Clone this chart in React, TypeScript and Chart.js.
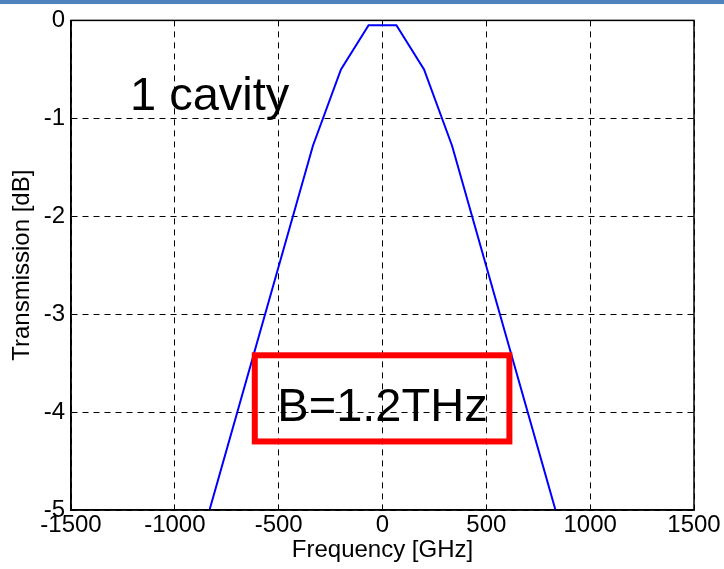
import React, { useEffect, useRef } from "react";
import { Chart, registerables } from "chart.js";

Chart.register(...registerables);

// Data
const frequencyGHz = [-833, -335, -200, -67, 67, 200, 335, 833];
const transmissionDb = [-5, -1.28, -0.5, -0.05, -0.05, -0.5, -1.28, -5];

const xTicks = [-1500, -1000, -500, 0, 500, 1000, 1500];
const yTicks = [0, -1, -2, -3, -4, -5];

const cavityLabel = "1 cavity";
const bandwidthLabel = "B=1.2THz";
// annotation anchors in data units
const cavityAnchor = { x: -1216, y: -0.913 };
const bandwidthBox = { x1: -615, x2: 611, y1: -3.42, y2: -4.3 };
const bandwidthText = { x: 0, y: -4.09 };

const FONT = "'Liberation Sans', Arial, sans-serif";

const annotationPlugin = {
  id: "annotations",
  afterDatasetsDraw(chart: any) {
    const { ctx, chartArea, scales } = chart;
    const xs = scales.x;
    const ys = scales.y;
    ctx.save();
    ctx.strokeStyle = "#000";
    ctx.lineWidth = 1.5;
    ctx.setLineDash([]);
    ctx.strokeRect(chartArea.left, chartArea.top, chartArea.right - chartArea.left, chartArea.bottom - chartArea.top);

    ctx.fillStyle = "#000";
    ctx.font = `47px ${FONT}`;
    ctx.textBaseline = "alphabetic";
    ctx.textAlign = "left";
    ctx.fillText(cavityLabel, xs.getPixelForValue(cavityAnchor.x), ys.getPixelForValue(cavityAnchor.y));
    ctx.textAlign = "center";
    ctx.fillText(bandwidthLabel, xs.getPixelForValue(bandwidthText.x), ys.getPixelForValue(bandwidthText.y));

    const l = xs.getPixelForValue(bandwidthBox.x1);
    const r = xs.getPixelForValue(bandwidthBox.x2);
    const t = ys.getPixelForValue(bandwidthBox.y1);
    const b = ys.getPixelForValue(bandwidthBox.y2);
    ctx.strokeStyle = "#FF0000";
    ctx.lineWidth = 6;
    ctx.strokeRect(l, t, r - l, b - t);
    ctx.restore();
  },
};

export default function App() {
  const canvasRef = useRef<HTMLCanvasElement | null>(null);

  useEffect(() => {
    if (!canvasRef.current) return;
    const chart = new Chart(canvasRef.current, {
      type: "line",
      data: {
        datasets: [
          {
            data: frequencyGHz.map((f, i) => ({ x: f, y: transmissionDb[i] })),
            borderColor: "#0000FF",
            borderWidth: 2,
            pointRadius: 0,
            tension: 0,
            fill: false,
          },
        ],
      },
      options: {
        animation: false,
        responsive: false,
        maintainAspectRatio: false,
        layout: { padding: { top: 17, right: 30, left: 0, bottom: 0 } },
        plugins: { legend: { display: false }, tooltip: { enabled: false } },
        scales: {
          x: {
            type: "linear",
            min: -1500,
            max: 1500,
            afterBuildTicks: (s: any) => {
              s.ticks = xTicks.map((v) => ({ value: v }));
            },
            afterFit: (s: any) => {
              s.height = 59;
            },
            ticks: {
              color: "#000",
              font: { family: FONT, size: 24 },
              padding: 1,
              maxRotation: 0,
              autoSkip: false,
              callback: (v: any) => String(v),
            },
            grid: { color: "#000", lineWidth: 1, drawTicks: false },
            border: { display: true, color: "#000", width: 1.5, dash: [6, 5] },
            title: {
              display: true,
              text: "Frequency [GHz]",
              color: "#000",
              font: { family: FONT, size: 24 },
              padding: { top: 0, bottom: 4 },
            },
          },
          y: {
            type: "linear",
            min: -5,
            max: 0,
            afterBuildTicks: (s: any) => {
              s.ticks = yTicks.map((v) => ({ value: v }));
            },
            afterFit: (s: any) => {
              s.width = 71;
            },
            ticks: {
              color: "#000",
              font: { family: FONT, size: 24 },
              padding: 6,
              autoSkip: false,
              callback: (v: any) => String(v),
            },
            grid: { color: "#000", lineWidth: 1, drawTicks: false },
            border: { display: true, color: "#000", width: 1.5, dash: [6, 5] },
            title: {
              display: true,
              text: "Transmission [dB]",
              color: "#000",
              font: { family: FONT, size: 24 },
              padding: { top: 8, bottom: 0 },
            },
          },
        },
      },
      plugins: [annotationPlugin],
    });
    return () => chart.destroy();
  }, []);

  return (
    <div style={{ position: "fixed", left: 0, top: 0, width: 724, height: 569, background: "#fff" }}>
      <canvas ref={canvasRef} width={724} height={569} style={{ display: "block" }} />
      <div style={{ position: "absolute", left: 0, top: 0, width: 724, height: 4, background: "#4F81BD" }} />
    </div>
  );
}
